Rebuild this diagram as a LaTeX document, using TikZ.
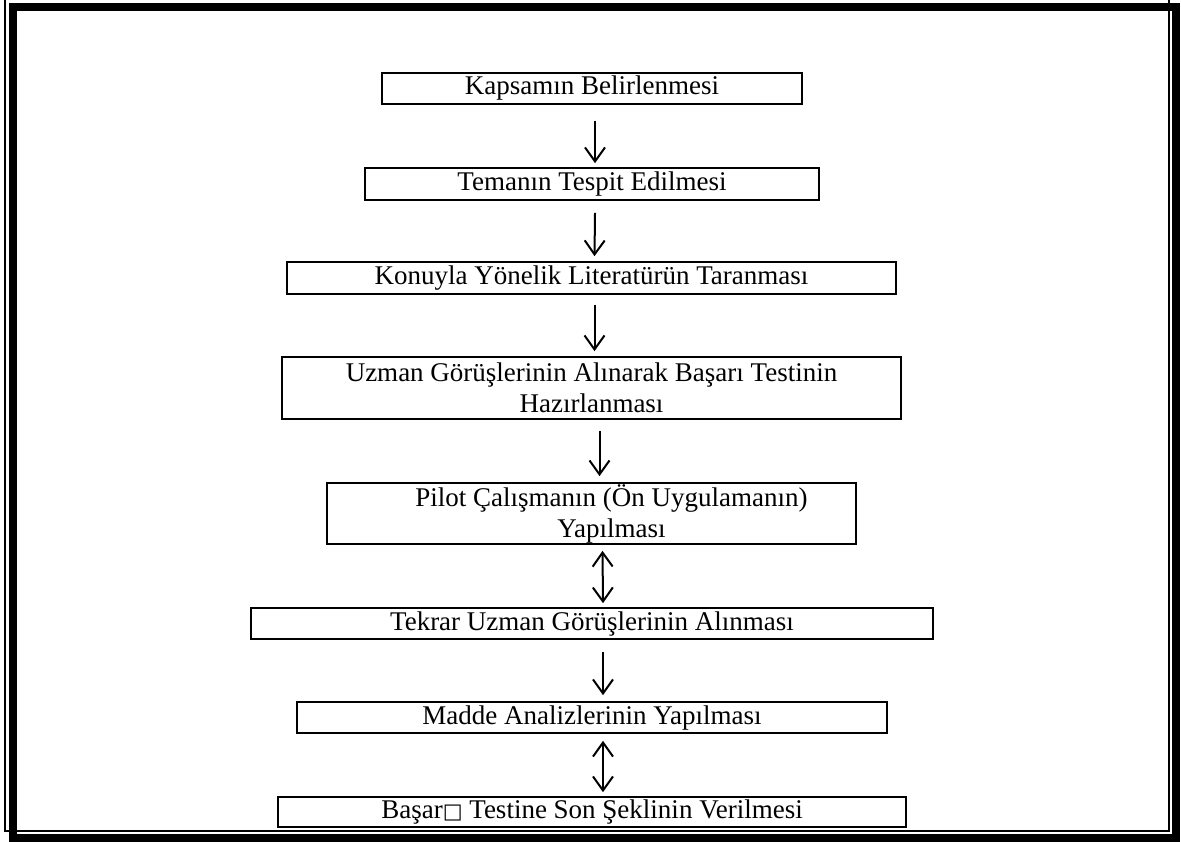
\documentclass[tikz,border=0pt]{standalone}
\usepackage{fontspec}
\setmainfont{Liberation Serif}
\newfontfamily\symfont{DejaVu Sans}
\usetikzlibrary{arrows.meta}

\tikzset{
    adim/.style={draw,line width=0.85pt,minimum height=15.5pt,inner sep=0pt,
        align=center,font=\fontsize{13.5}{15.5}\selectfont},
    ok/.style={line width=1pt,-{Straight Barb[length=7pt,width=10pt]}},
    ciftok/.style={line width=1pt,
        {Straight Barb[length=7pt,width=10pt]}-{Straight Barb[length=7pt,width=10pt]}}
}

\begin{document}
\begin{tikzpicture}[x=0.5pt,y=-0.5pt]
            \useasboundingbox (0,0) rectangle (1181,841);
            \clip (0,0) rectangle (1181,841);
            % page frame
            \draw[line width=1pt] (4.5,-2) rectangle (1168.7,831);
            \draw[line width=4pt] (12.5,6.5) rectangle (1175.5,837.5);
            % steps
            \node[adim,minimum width=210pt] (kapsam) at (592,88.5) {Kapsamın Belirlenmesi};
            \node[adim,minimum width=227pt,minimum height=16pt] (tema) at (592,184) {Temanın Tespit Edilmesi};
            \node[adim,minimum width=304.5pt,minimum height=16pt] (tarama) at (591.5,278)
                {Konuyla Yönelik Literatürün Taranması};
            \node[adim,minimum width=309.5pt,minimum height=31pt] (hazirlik) at (591.5,388)
                {Uzman Görüşlerinin Alınarak Başarı Testinin\\Hazırlanması};
            \node[adim,minimum width=264.5pt,minimum height=30.5pt] (pilot) at (591.5,513.5)
                {\hspace*{20pt}Pilot Çalışmanın (Ön Uygulamanın)\\\hspace*{20pt}Yapılması};
            \node[adim,minimum width=341pt] (tekrar) at (592,623.5) {Tekrar Uzman Görüşlerinin Alınması};
            \node[adim,minimum width=295pt] (analiz) at (592,717.5) {Madde Analizlerinin Yapılması};
            \node[adim,minimum width=314pt,minimum height=15pt] (son) at (592,812)
                {Başar{\symfont\fontsize{10.5}{12}\selectfont □} Testine Son Şeklinin Verilmesi};
            % arrows
            \draw[ok] ([xshift=1.5pt,yshift=-8pt]kapsam.south) -- ([xshift=1.5pt,yshift=2pt]tema.north);
            \draw[ok] ([xshift=1.5pt,yshift=-6pt]tema.south) -- ([xshift=1.5pt,yshift=2.5pt]tarama.north);
            \draw[ok] ([xshift=1.5pt,yshift=-5pt]tarama.south) -- ([xshift=1.5pt,yshift=2.5pt]hazirlik.north);
            \draw[ok] ([xshift=4pt,yshift=-5.5pt]hazirlik.south) -- ([xshift=4pt,yshift=3pt]pilot.north);
            \draw[ciftok] ([xshift=5.5pt,yshift=-3pt]pilot.south) -- ([xshift=5.5pt,yshift=2pt]tekrar.north);
            \draw[ok] ([xshift=5.5pt,yshift=-6pt]tekrar.south) -- ([xshift=5.5pt,yshift=3pt]analiz.north);
            \draw[ciftok] ([xshift=5.5pt,yshift=-3.5pt]analiz.south) -- ([xshift=5.5pt,yshift=2pt]son.north);
        \end{tikzpicture}
\end{document}
